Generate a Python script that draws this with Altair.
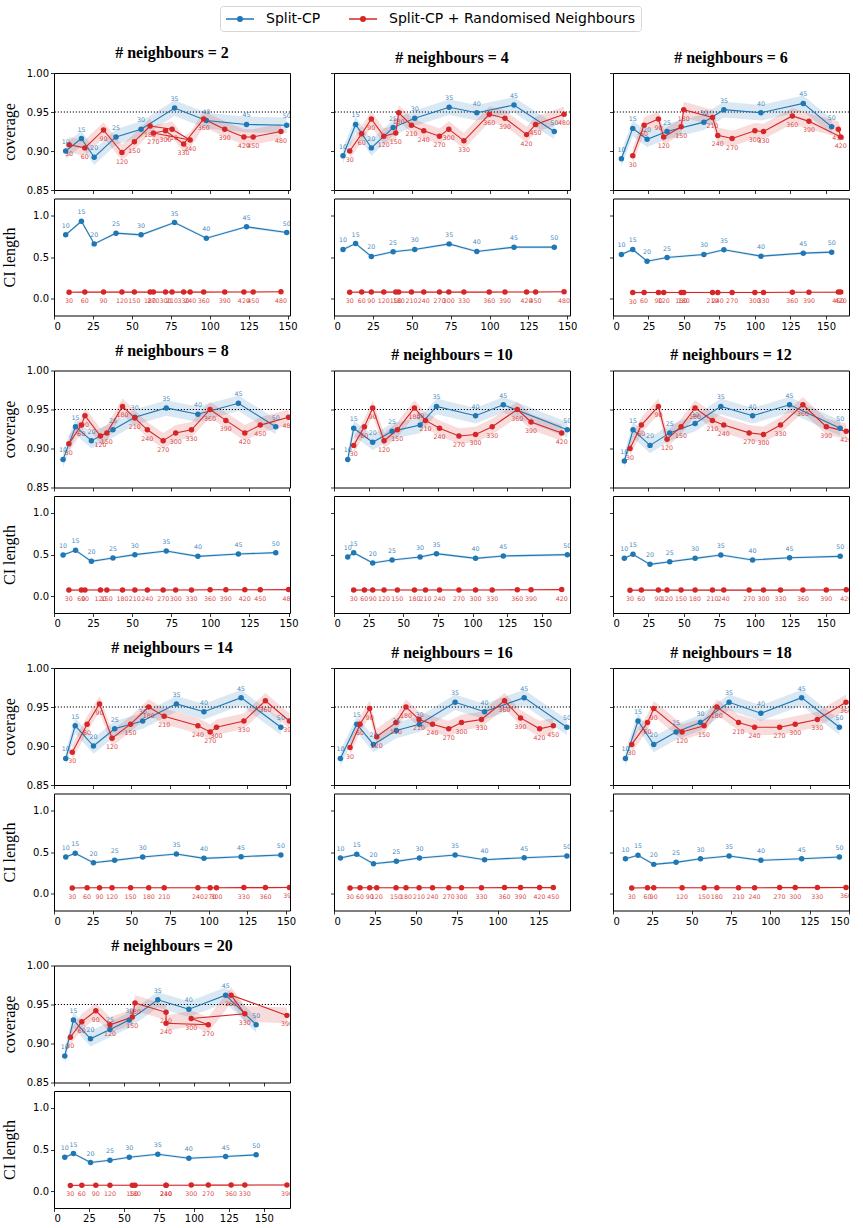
import altair as alt
import pandas as pd

BLUE = "#1f77b4"
RED = "#d62728"
SERIES = ["Split-CP", "Split-CP + Randomised Neighbours"]
SERIES_COLORS = [BLUE, RED]
NEIGHBOURS = [2, 4, 6, 8, 10, 12, 14, 16, 18, 20]
BLUE_LABELS = [10, 15, 20, 25, 30, 35, 40, 45, 50]
RED_LABELS = [30, 60, 90, 120, 150, 180, 210, 240, 270, 300, 330, 360, 390, 420, 450, 480]
X_TICKS = [0, 25, 50, 75, 100, 125, 150]
COV_TICKS = [0.85, 0.90, 0.95, 1.00]
CI_TICKS = [0.0, 0.5, 1.0]
TARGET = [0.95]
X_MAX = [151.5, 151.7, 166.2, 150.9, 170.2, 166.4, 152.5, 144.2, 150.0, 168.7]
COV_HALF = [0.010, 0.010]
CI_HALF = [0.015, 0.010]

# ---- # neighbours = 2
N2_SPLIT_X = [7.5, 17.6, 25.8, 39.8, 55.9, 77.4, 97.8, 123.6, 149.4]
N2_SPLIT_COV = [0.900, 0.916, 0.892, 0.918, 0.928, 0.955, 0.939, 0.934, 0.933]
N2_SPLIT_CI = [0.765, 0.928, 0.657, 0.785, 0.765, 0.912, 0.725, 0.861, 0.793]
N2_RAND_X = [9.7, 19.8, 31.8, 43.6, 51.6, 61.7, 75.8, 87.4, 63.8, 71.6, 83.2, 96.1, 109.6, 121.9, 127.9, 145.7]
N2_RAND_COV = [0.908, 0.904, 0.927, 0.898, 0.912, 0.932, 0.928, 0.914, 0.923, 0.926, 0.909, 0.941, 0.928, 0.918, 0.918, 0.925]
N2_RAND_CI = [0.078, 0.080, 0.080, 0.080, 0.080, 0.080, 0.080, 0.080, 0.080, 0.080, 0.080, 0.080, 0.082, 0.082, 0.082, 0.084]

# ---- # neighbours = 4
N4_SPLIT_X = [5.8, 13.9, 24.0, 38.0, 51.9, 74.0, 91.8, 115.7, 141.6]
N4_SPLIT_COV = [0.894, 0.934, 0.904, 0.930, 0.942, 0.956, 0.949, 0.959, 0.925]
N4_SPLIT_CI = [0.590, 0.661, 0.506, 0.562, 0.590, 0.657, 0.566, 0.618, 0.618]
N4_RAND_X = [10.1, 17.8, 24.0, 32.0, 39.7, 41.6, 49.8, 57.7, 67.8, 73.8, 83.5, 99.8, 109.9, 123.8, 129.6, 147.9]
N4_RAND_COV = [0.900, 0.922, 0.941, 0.919, 0.923, 0.949, 0.933, 0.926, 0.919, 0.928, 0.913, 0.947, 0.942, 0.921, 0.934, 0.947]
N4_RAND_CI = [0.078, 0.080, 0.080, 0.080, 0.080, 0.080, 0.080, 0.080, 0.080, 0.080, 0.080, 0.080, 0.082, 0.082, 0.082, 0.084]

# ---- # neighbours = 6
N6_SPLIT_X = [5.9, 13.9, 24.0, 38.1, 64.0, 78.1, 104.2, 134.0, 154.0]
N6_SPLIT_COV = [0.890, 0.929, 0.915, 0.925, 0.937, 0.953, 0.949, 0.961, 0.931]
N6_SPLIT_CI = [0.530, 0.590, 0.450, 0.494, 0.530, 0.586, 0.510, 0.546, 0.558]
N6_RAND_X = [13.9, 21.9, 32.0, 35.7, 48.0, 49.8, 70.1, 73.8, 83.9, 99.9, 106.0, 126.3, 138.0, 160.4, 158.7]
N6_RAND_COV = [0.894, 0.933, 0.941, 0.918, 0.931, 0.953, 0.943, 0.920, 0.916, 0.926, 0.925, 0.945, 0.938, 0.918, 0.928]
N6_RAND_CI = [0.074, 0.076, 0.076, 0.076, 0.076, 0.076, 0.076, 0.076, 0.076, 0.076, 0.076, 0.078, 0.078, 0.080, 0.080]

# ---- # neighbours = 8
N8_SPLIT_X = [5.8, 13.8, 23.9, 37.7, 51.7, 71.8, 92.0, 117.9, 141.8]
N8_SPLIT_COV = [0.886, 0.928, 0.910, 0.924, 0.940, 0.952, 0.944, 0.958, 0.928]
N8_SPLIT_CI = [0.494, 0.550, 0.418, 0.458, 0.498, 0.542, 0.478, 0.506, 0.522]
N8_RAND_X = [9.5, 17.5, 19.8, 29.7, 33.8, 43.8, 51.7, 59.7, 69.8, 77.8, 87.9, 99.8, 109.9, 122.0, 131.9, 150.0]
N8_RAND_COV = [0.906, 0.930, 0.942, 0.916, 0.920, 0.954, 0.939, 0.924, 0.910, 0.920, 0.924, 0.950, 0.936, 0.920, 0.930, 0.940]
N8_RAND_CI = [0.074, 0.076, 0.076, 0.076, 0.076, 0.076, 0.076, 0.076, 0.076, 0.076, 0.076, 0.078, 0.078, 0.078, 0.078, 0.080]

# ---- # neighbours = 10
N10_SPLIT_X = [9.9, 14.2, 27.9, 41.9, 62.1, 73.9, 102.1, 122.1, 168.3]
N10_SPLIT_COV = [0.886, 0.926, 0.908, 0.922, 0.930, 0.954, 0.942, 0.956, 0.924]
N10_SPLIT_CI = [0.470, 0.522, 0.398, 0.434, 0.470, 0.510, 0.454, 0.482, 0.498]
N10_RAND_X = [14.2, 21.9, 27.9, 36.1, 45.7, 58.0, 66.0, 76.1, 90.1, 102.1, 114.1, 132.2, 142.1, 164.2]
N10_RAND_COV = [0.904, 0.928, 0.952, 0.910, 0.924, 0.952, 0.936, 0.926, 0.916, 0.918, 0.928, 0.950, 0.934, 0.920]
N10_RAND_CI = [0.074, 0.076, 0.076, 0.076, 0.076, 0.076, 0.076, 0.076, 0.076, 0.076, 0.076, 0.078, 0.078, 0.080]

# ---- # neighbours = 12
N12_SPLIT_X = [8.0, 14.1, 26.1, 40.0, 57.9, 76.0, 98.4, 124.5, 160.2]
N12_SPLIT_COV = [0.884, 0.924, 0.904, 0.920, 0.932, 0.954, 0.942, 0.956, 0.926]
N12_SPLIT_CI = [0.454, 0.502, 0.382, 0.414, 0.454, 0.494, 0.434, 0.462, 0.478]
N12_RAND_X = [12.0, 20.0, 32.0, 38.1, 48.0, 57.9, 70.1, 78.1, 96.0, 106.1, 118.1, 133.9, 150.4, 164.5]
N12_RAND_COV = [0.900, 0.930, 0.954, 0.912, 0.928, 0.952, 0.936, 0.930, 0.920, 0.918, 0.930, 0.956, 0.928, 0.922]
N12_RAND_CI = [0.072, 0.074, 0.074, 0.074, 0.074, 0.074, 0.074, 0.074, 0.074, 0.074, 0.074, 0.076, 0.076, 0.078]

# ---- # neighbours = 14
N14_SPLIT_X = [7.6, 13.7, 25.5, 39.2, 57.3, 79.1, 96.9, 120.9, 146.6]
N14_SPLIT_COV = [0.884, 0.926, 0.900, 0.922, 0.932, 0.954, 0.944, 0.962, 0.924]
N14_SPLIT_CI = [0.440, 0.484, 0.372, 0.400, 0.440, 0.476, 0.424, 0.444, 0.464]
N14_RAND_X = [11.8, 21.4, 29.4, 37.5, 49.5, 61.2, 71.2, 93.0, 100.9, 105.0, 122.7, 136.6, 152.1]
N14_RAND_COV = [0.892, 0.928, 0.954, 0.910, 0.928, 0.950, 0.938, 0.926, 0.918, 0.924, 0.932, 0.958, 0.932]
N14_RAND_CI = [0.070, 0.072, 0.072, 0.072, 0.072, 0.072, 0.072, 0.072, 0.072, 0.072, 0.074, 0.074, 0.076]

# ---- # neighbours = 16
N16_SPLIT_X = [3.9, 13.9, 24.1, 38.1, 52.2, 74.0, 92.0, 116.2, 142.3]
N16_SPLIT_COV = [0.884, 0.928, 0.902, 0.920, 0.928, 0.956, 0.944, 0.962, 0.924]
N16_SPLIT_CI = [0.428, 0.472, 0.360, 0.388, 0.428, 0.464, 0.408, 0.432, 0.452]
N16_RAND_X = [9.8, 15.9, 21.8, 26.1, 37.9, 44.0, 52.0, 60.2, 70.1, 77.9, 90.1, 104.2, 114.0, 125.6, 134.0]
N16_RAND_COV = [0.898, 0.928, 0.948, 0.912, 0.930, 0.950, 0.934, 0.928, 0.922, 0.930, 0.934, 0.958, 0.936, 0.922, 0.926]
N16_RAND_CI = [0.070, 0.072, 0.072, 0.072, 0.072, 0.072, 0.072, 0.072, 0.072, 0.072, 0.072, 0.074, 0.074, 0.074, 0.074]

# ---- # neighbours = 18
N18_SPLIT_X = [7.9, 15.9, 25.9, 40.1, 55.6, 73.8, 94.0, 119.9, 143.9]
N18_SPLIT_COV = [0.884, 0.932, 0.902, 0.918, 0.930, 0.956, 0.942, 0.962, 0.924]
N18_SPLIT_CI = [0.420, 0.460, 0.352, 0.376, 0.420, 0.452, 0.400, 0.420, 0.440]
N18_RAND_X = [11.9, 21.9, 25.9, 43.9, 57.9, 66.0, 79.8, 90.0, 105.9, 115.8, 129.9, 148.1]
N18_RAND_COV = [0.902, 0.930, 0.948, 0.918, 0.926, 0.950, 0.930, 0.924, 0.924, 0.928, 0.934, 0.956]
N18_RAND_CI = [0.070, 0.072, 0.072, 0.072, 0.072, 0.072, 0.072, 0.072, 0.074, 0.074, 0.074, 0.076]

# ---- # neighbours = 20
N20_SPLIT_X = [7.7, 13.9, 26.1, 40.0, 53.8, 74.2, 96.4, 122.7, 144.5]
N20_SPLIT_COV = [0.884, 0.930, 0.906, 0.918, 0.930, 0.956, 0.944, 0.962, 0.924]
N20_SPLIT_CI = [0.408, 0.452, 0.344, 0.372, 0.408, 0.444, 0.396, 0.416, 0.436]
N20_RAND_X = [11.7, 19.9, 29.9, 40.0, 56.0, 57.9, 80.1, 80.1, 110.3, 98.1, 136.4, 126.6, 166.5]
N20_RAND_COV = [0.908, 0.928, 0.942, 0.924, 0.934, 0.952, 0.940, 0.926, 0.924, 0.932, 0.938, 0.962, 0.936]
N20_RAND_CI = [0.070, 0.072, 0.072, 0.072, 0.072, 0.072, 0.072, 0.072, 0.074, 0.074, 0.074, 0.074, 0.076]

PANEL_DATA = [
    (N2_SPLIT_X, N2_SPLIT_COV, N2_SPLIT_CI, N2_RAND_X, N2_RAND_COV, N2_RAND_CI),
    (N4_SPLIT_X, N4_SPLIT_COV, N4_SPLIT_CI, N4_RAND_X, N4_RAND_COV, N4_RAND_CI),
    (N6_SPLIT_X, N6_SPLIT_COV, N6_SPLIT_CI, N6_RAND_X, N6_RAND_COV, N6_RAND_CI),
    (N8_SPLIT_X, N8_SPLIT_COV, N8_SPLIT_CI, N8_RAND_X, N8_RAND_COV, N8_RAND_CI),
    (N10_SPLIT_X, N10_SPLIT_COV, N10_SPLIT_CI, N10_RAND_X, N10_RAND_COV, N10_RAND_CI),
    (N12_SPLIT_X, N12_SPLIT_COV, N12_SPLIT_CI, N12_RAND_X, N12_RAND_COV, N12_RAND_CI),
    (N14_SPLIT_X, N14_SPLIT_COV, N14_SPLIT_CI, N14_RAND_X, N14_RAND_COV, N14_RAND_CI),
    (N16_SPLIT_X, N16_SPLIT_COV, N16_SPLIT_CI, N16_RAND_X, N16_RAND_COV, N16_RAND_CI),
    (N18_SPLIT_X, N18_SPLIT_COV, N18_SPLIT_CI, N18_RAND_X, N18_RAND_COV, N18_RAND_CI),
    (N20_SPLIT_X, N20_SPLIT_COV, N20_SPLIT_CI, N20_RAND_X, N20_RAND_COV, N20_RAND_CI),
]

W = 236
H = 117
SERIF = "Liberation Serif"
SANS = "DejaVu Sans"
CSCALE = alt.Scale(domain=SERIES, range=SERIES_COLORS)

# legend handle: a 28px line with a filled dot in its middle (drawn as concentric rings)
LEGEND_SYMBOL = (
    "M-1,0L3,0"
    "M1.32,0A0.32,0.32,0,1,1,0.68,0A0.32,0.32,0,1,1,1.32,0"
    "M1.15,0A0.15,0.15,0,1,1,0.85,0A0.15,0.15,0,1,1,1.15,0"
)


def panel_df(bx, bc, bl, rx, rc, rl):
    rows = []
    for i, (x, c, l) in enumerate(zip(bx, bc, bl)):
        rows.append({"series": SERIES[0], "label": BLUE_LABELS[i], "x": x, "cov": c, "ci": l})
    for i, (x, c, l) in enumerate(zip(rx, rc, rl)):
        rows.append({"series": SERIES[1], "label": RED_LABELS[i], "x": x, "cov": c, "ci": l})
    return pd.DataFrame(rows)


def sub_chart(df, metric, xmax, col0, bottom, legend, title):
    xticks = [t for t in X_TICKS if t <= xmax]
    xaxis = alt.Axis(values=xticks, labels=bottom, title=None, format="d")
    xenc = alt.X("x:Q", scale=alt.Scale(domain=[0, xmax], nice=False, zero=False), axis=xaxis)
    if metric == "cov":
        ydom = [0.85, 1.0]
        yticks = COV_TICKS
        yfmt = ".2f"
        ytitle = "coverage"
        halves = COV_HALF
    else:
        ydom = [-0.2, 1.2]
        yticks = CI_TICKS
        yfmt = ".1f"
        ytitle = "CI length"
        halves = CI_HALF
    if col0:
        yaxis = alt.Axis(values=yticks, format=yfmt, labels=True, title=ytitle, titleX=-37)
    else:
        yaxis = alt.Axis(values=yticks, format=yfmt, labels=False, title=None)
    yscale = alt.Scale(domain=ydom, nice=False, zero=False)

    base = alt.Chart(df)
    fill_enc = alt.Fill("series:N", scale=CSCALE, legend=None)
    if legend is not None:
        color_enc = alt.Color("series:N", scale=CSCALE, legend=legend)
    else:
        color_enc = alt.Color("series:N", scale=CSCALE)

    layers = []
    for s_name, s_col, half in zip(SERIES, SERIES_COLORS, halves):
        band = base.transform_filter(
            alt.datum.series == s_name
        ).transform_calculate(
            lo=f"datum.{metric} - {half}", hi=f"datum.{metric} + {half}"
        ).mark_area(opacity=0.17, color=s_col, clip=True).encode(
            x=xenc,
            y=alt.Y("lo:Q", scale=yscale, axis=yaxis),
            y2="hi:Q",
        )
        layers.append(band)
    if metric == "cov":
        rule = alt.Chart(pd.DataFrame({"t": TARGET})).mark_rule(
            color="black", strokeWidth=1, strokeDash=[1.2, 1.8]
        ).encode(y=alt.Y("t:Q", scale=yscale, axis=yaxis))
        layers.append(rule)
    line = base.mark_line(strokeWidth=1.1, clip=True).encode(
        x=xenc,
        y=alt.Y(f"{metric}:Q", scale=yscale, axis=yaxis),
        color=color_enc,
        order=alt.Order("label:Q"),
    )
    pts = base.mark_circle(size=30, opacity=1, clip=True).encode(
        x=xenc,
        y=alt.Y(f"{metric}:Q", scale=yscale, axis=yaxis),
        fill=fill_enc,
    )
    txt_b = base.transform_filter(alt.datum.series == SERIES[0]).mark_text(
        dy=-9, fontSize=6.3, font=SANS, opacity=0.85, clip=True
    ).encode(
        x=xenc,
        y=alt.Y(f"{metric}:Q", scale=yscale, axis=yaxis),
        text="label:N",
        fill=fill_enc,
    )
    txt_r = base.transform_filter(alt.datum.series == SERIES[1]).mark_text(
        dy=9, fontSize=6.3, font=SANS, opacity=0.85, clip=True
    ).encode(
        x=xenc,
        y=alt.Y(f"{metric}:Q", scale=yscale, axis=yaxis),
        text="label:N",
        fill=fill_enc,
    )
    layers += [line, pts, txt_b, txt_r]
    props = {"width": W, "height": H}
    if title is not None:
        props["title"] = alt.TitleParams(
            text=title, font=SERIF, fontSize=16, fontWeight="bold",
            color="black", offset=7, anchor="middle",
        )
    return alt.layer(*layers).properties(**props)


legend_def = alt.Legend(
    orient="none", legendX=166, legendY=-67, direction="horizontal", title=None,
    labelFont=SANS, labelFontSize=14, labelColor="black", labelLimit=500,
    symbolType=LEGEND_SYMBOL, symbolSize=196, symbolStrokeWidth=1.6, symbolOpacity=1,
    labelOffset=25, columnPadding=24, padding=5, fillColor="white",
    strokeColor="#d6d6d6", cornerRadius=3,
)

panels = []
for idx, n in enumerate(NEIGHBOURS):
    bx, bc, bl, rx, rc, rl = PANEL_DATA[idx]
    df = panel_df(bx, bc, bl, rx, rc, rl)
    col0 = idx % 3 == 0
    cov = sub_chart(df, "cov", X_MAX[idx], col0, False,
                    legend_def if idx == 0 else None, f"# neighbours = {n}")
    ci = sub_chart(df, "ci", X_MAX[idx], col0, True, None, None)
    panels.append(alt.vconcat(cov, ci, spacing=1.5 if col0 else 2.5))

chart = alt.concat(*panels, columns=3, spacing={"row": 9.5, "column": 30}).configure_view(
    stroke="black", strokeWidth=1
).configure_axis(
    labelFont=SANS, labelFontSize=10, labelColor="black", labelPadding=2,
    tickColor="black", tickSize=3.5, tickWidth=0.8, domain=False, grid=False,
    titleFont=SERIF, titleFontSize=16, titleFontWeight="normal", titleColor="black",
).properties(background="white", padding={"left": 0, "top": 5, "right": 5, "bottom": 5})

chart.save("out.html", embed_options={"renderer": "svg", "actions": False})
